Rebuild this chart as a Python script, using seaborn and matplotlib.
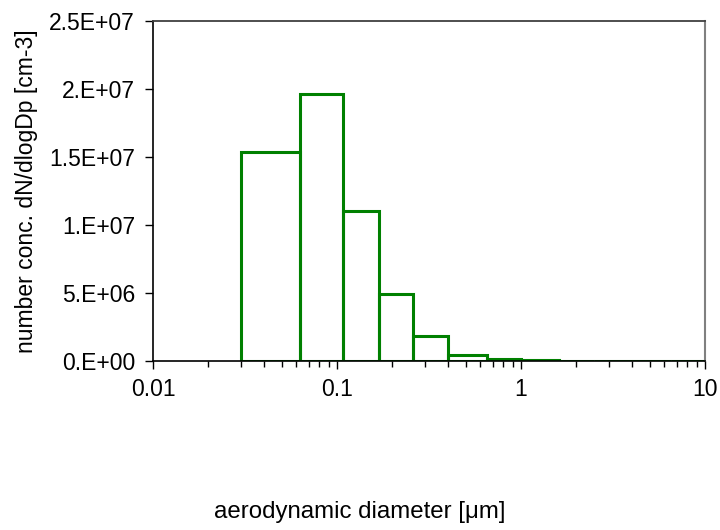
import numpy as np
import matplotlib
matplotlib.use("Agg")
import matplotlib.pyplot as plt
import seaborn as sns

# bin edges (aerodynamic diameter, um) and dN/dlogDp per bin
bin_edges = [0.03, 0.063, 0.108, 0.17, 0.26, 0.40, 0.65, 1.0, 1.6, 2.5, 4.0, 6.5, 10.0]
conc = [1.535e7, 1.96e7, 1.10e7, 4.9e6, 1.85e6, 4.4e5, 1.2e5, 4e4, 2e4, 1e4, 5e3, 2e3]

x_ticks = [0.01, 0.1, 1, 10]
x_ticklabels = ["0.01", "0.1", "1", "10"]
y_ticks = [0, 5e6, 1e7, 1.5e7, 2e7, 2.5e7]
y_ticklabels = ["0.E+00", "5.E+06", "1.E+07", "1.5E+07", "2.E+07", "2.5E+07"]

sns.set_style("ticks")
plt.rcParams["font.family"] = ["Liberation Sans", "DejaVu Sans"]
plt.rcParams["text.color"] = "black"
plt.rcParams["axes.labelcolor"] = "black"
plt.rcParams["xtick.color"] = "black"
plt.rcParams["ytick.color"] = "black"

mids = np.sqrt(np.array(bin_edges[:-1]) * np.array(bin_edges[1:]))

fig = plt.figure(figsize=(7.2, 5.3), dpi=100)
ax = fig.add_axes([0.2125, 0.3189, 0.7667, 0.6415])

sns.histplot(x=mids, weights=conc, bins=bin_edges, element="bars", fill=False,
             color="#008000", edgecolor="#008000", linewidth=2.2, ax=ax)

ax.set_xscale("log")
ax.set_xlim(0.01, 10)
ax.set_ylim(0, 2.5e7)
ax.set_xticks(x_ticks)
ax.set_xticklabels(x_ticklabels)
ax.set_yticks(y_ticks)
ax.set_yticklabels(y_ticklabels)

ax.tick_params(axis="both", which="major", labelsize=16.5, length=6, width=1,
               color="black", labelcolor="black", direction="out")
ax.tick_params(axis="y", which="major", pad=7)
ax.tick_params(axis="x", which="major", pad=6.5)
ax.tick_params(axis="x", which="minor", length=4, width=1, color="black")

for side in ["left", "bottom"]:
    ax.spines[side].set_color("black")
    ax.spines[side].set_linewidth(1.2)
ax.spines["top"].set_visible(True)
ax.spines["right"].set_visible(True)
ax.spines["top"].set_color("#404040")
ax.spines["right"].set_color("#808080")
ax.spines["top"].set_linewidth(1.3)
ax.spines["right"].set_linewidth(1.5)

ax.set_xlabel("")
ax.set_ylabel("number conc. dN/dlogDp [cm-3]", fontsize=16.5, labelpad=8,
              color="black")
fig.text(0.5, 0.034, "aerodynamic diameter [μm]", ha="center", va="center",
         fontsize=17.3, color="black")

fig.savefig("out.png", dpi=100)
